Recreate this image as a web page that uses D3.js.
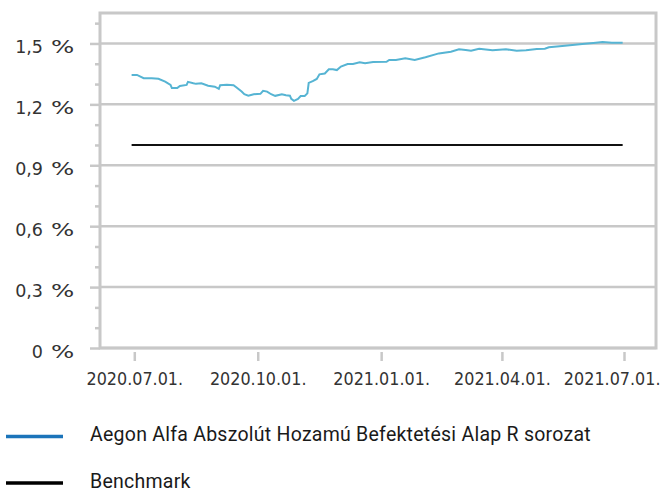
<!DOCTYPE html>
<html>
<head>
<meta charset="utf-8">
<script src="https://cdn.jsdelivr.net/npm/d3@7"></script>
<style>
  body { margin: 0; background: #fff; }
  svg { display: block; }
</style>
</head>
<body>
<div id="chart"></div>
<script>
// data
var fundDates = ["2020-06-29","2020-07-03","2020-07-08","2020-07-14","2020-07-19","2020-07-24","2020-07-28","2020-07-29",
  "2020-08-02","2020-08-04","2020-08-09","2020-08-10","2020-08-14","2020-08-16","2020-08-20","2020-08-25","2020-08-30",
  "2020-09-02","2020-09-03","2020-09-08","2020-09-13","2020-09-15","2020-09-19","2020-09-21","2020-09-24","2020-09-28",
  "2020-10-03","2020-10-05","2020-10-08","2020-10-11","2020-10-14","2020-10-19","2020-10-22","2020-10-25","2020-10-26",
  "2020-10-28","2020-10-31","2020-11-02","2020-11-05","2020-11-07","2020-11-08","2020-11-11","2020-11-14","2020-11-16",
  "2020-11-20","2020-11-23","2020-11-26","2020-11-29","2020-12-02","2020-12-07","2020-12-11","2020-12-16","2020-12-20",
  "2020-12-26","2021-01-05","2021-01-07","2021-01-12","2021-01-19","2021-01-26","2021-02-03","2021-02-13","2021-02-22",
  "2021-02-28","2021-03-05","2021-03-09","2021-03-15","2021-03-25","2021-04-04","2021-04-12","2021-04-19","2021-04-27",
  "2021-05-03","2021-05-06","2021-05-16","2021-05-31","2021-06-10","2021-06-15","2021-06-22","2021-06-30"];
var fundValues = [1.345,1.345,1.329,1.329,1.326,1.312,1.296,1.280,
  1.280,1.291,1.296,1.311,1.304,1.301,1.304,1.292,1.287,
  1.276,1.294,1.296,1.294,1.284,1.263,1.250,1.243,1.250,
  1.252,1.267,1.263,1.250,1.242,1.250,1.245,1.243,1.227,
  1.217,1.227,1.241,1.241,1.254,1.306,1.314,1.325,1.348,
  1.352,1.373,1.373,1.369,1.386,1.399,1.399,1.407,1.402,
  1.409,1.410,1.419,1.419,1.427,1.419,1.432,1.451,1.459,
  1.471,1.468,1.464,1.474,1.466,1.471,1.464,1.466,1.473,
  1.474,1.481,1.487,1.497,1.504,1.507,1.504,1.504];
var benchDates = ["2020-06-29", "2021-06-30"];
var benchValues = [1.0, 1.0];

var yMajor = [0, 0.3, 0.6, 0.9, 1.2, 1.5];
var yTickLabels = ["0", "0,3", "0,6", "0,9", "1,2", "1,5"];
var yMinor = [0.1, 0.2, 0.4, 0.5, 0.7, 0.8, 1.0, 1.1, 1.3, 1.4, 1.6];
var xTicks = ["2020-07-01", "2020-10-01", "2021-01-01", "2021-04-01", "2021-07-01"];
var seriesNames = ["Aegon Alfa Abszolút Hozamú Befektetési Alap R sorozat", "Benchmark"];

var width = 662, height = 491;
var frame = {left: 100, top: 13, right: 656, bottom: 348};
var gray = "#c8c8c8";
var xScaleX = 0.865; // horizontal squeeze of the x labels

var parse = d3.timeParse("%Y-%m-%d");
var fmt = d3.timeFormat("%Y.%m.%d.");

var x = d3.scaleTime()
    .domain([parse(xTicks[0]), parse(xTicks[4])])
    .range([134.3, 624]);
var y = d3.scaleLinear()
    .domain([0, 1.65])
    .range([frame.bottom, frame.top]);

var svg = d3.select("#chart").append("svg")
    .attr("width", width)
    .attr("height", height);

// grid lines
svg.selectAll(".grid")
    .data(yMajor)
    .enter().append("line")
    .attr("x1", frame.left).attr("x2", frame.right)
    .attr("y1", function(d) { return y(d); })
    .attr("y2", function(d) { return y(d); })
    .attr("stroke", gray)
    .attr("stroke-width", 2.5);

// frame
svg.append("rect")
    .attr("x", frame.left).attr("y", frame.top)
    .attr("width", frame.right - frame.left)
    .attr("height", frame.bottom - frame.top)
    .attr("fill", "none")
    .attr("stroke", gray)
    .attr("stroke-width", 3);

// minor y ticks
var yMinorAxis = svg.append("g")
    .attr("transform", "translate(" + frame.left + ",0)")
    .call(d3.axisLeft(y).tickValues(yMinor).tickSize(5).tickFormat(""));
yMinorAxis.select(".domain").remove();
yMinorAxis.selectAll("line").attr("stroke", gray).attr("stroke-width", 2.5);

// major y ticks + labels
var yAxis = svg.append("g")
    .attr("transform", "translate(" + frame.left + ",0)")
    .call(d3.axisLeft(y).tickValues(yMajor).tickSize(10).tickPadding(47)
        .tickFormat(function(d, i) { return yTickLabels[i]; }));
yAxis.select(".domain").remove();
yAxis.selectAll("line").attr("stroke", gray).attr("stroke-width", 2.5);
yAxis.selectAll("text")
    .attr("dy", "0.52em")
    .style("font-family", "'DejaVu Sans', Verdana, sans-serif")
    .style("font-size", "17.5px")
    .attr("fill", "#333");
// the "%" is wider in the original font, so stretch it a bit
yAxis.selectAll(".tick").append("text")
    .attr("transform", "translate(-49,0) scale(1.4,1)")
    .attr("dy", "0.52em")
    .attr("text-anchor", "start")
    .style("font-family", "'DejaVu Sans', Verdana, sans-serif")
    .style("font-size", "17.5px")
    .attr("fill", "#333")
    .text("%");

// x ticks + labels
var xAxis = svg.append("g")
    .attr("transform", "translate(0," + 352 + ")")
    .call(d3.axisBottom(x).tickValues(xTicks.map(parse)).tickSize(9).tickFormat(fmt));
xAxis.select(".domain").remove();
xAxis.selectAll("line").attr("stroke", gray).attr("stroke-width", 2.5);
xAxis.selectAll("text")
    .attr("y", 33).attr("dy", 0)
    .attr("transform", "scale(" + xScaleX + ",1)")
    .style("font-family", "'DejaVu Sans', sans-serif")
    .style("font-size", "18.5px")
    .attr("fill", "#333");
// last label is pushed left so it stays inside the picture
xAxis.selectAll(".tick").filter(function(d, i) { return i === xTicks.length - 1; })
    .select("text")
    .attr("text-anchor", "end")
    .attr("x", (width - 2 - x(parse(xTicks[4]))) / xScaleX);

// lines
var fund = fundDates.map(function(d, i) { return {date: parse(d), value: fundValues[i]}; });
var bench = benchDates.map(function(d, i) { return {date: parse(d), value: benchValues[i]}; });

var line = d3.line()
    .x(function(d) { return x(d.date); })
    .y(function(d) { return y(d.value); });

svg.append("path")
    .datum(bench)
    .attr("d", line)
    .attr("fill", "none")
    .attr("stroke", "#111")
    .attr("stroke-width", 2);

svg.append("path")
    .datum(fund)
    .attr("d", line)
    .attr("fill", "none")
    .attr("stroke", "#56b4d3")
    .attr("stroke-width", 2);

// legend
var legendColors = ["#1b74ba", "#000"];
var legendY = [436.5, 483];
var lg = svg.selectAll(".legend")
    .data(seriesNames)
    .enter().append("g")
    .attr("class", "legend")
    .attr("transform", function(d, i) { return "translate(0," + legendY[i] + ")"; });
lg.append("line")
    .attr("x1", 6).attr("x2", 63)
    .attr("stroke", function(d, i) { return legendColors[i]; })
    .attr("stroke-width", 3.5);
lg.append("text")
    .attr("x", 90)
    .attr("y", 4.5)
    .style("font-family", "Roboto, sans-serif")
    .style("font-size", "19.5px")
    .style("letter-spacing", "0.25px")
    .attr("fill", "#1a1a1a")
    .text(function(d) { return d; });
</script>
</body>
</html>
